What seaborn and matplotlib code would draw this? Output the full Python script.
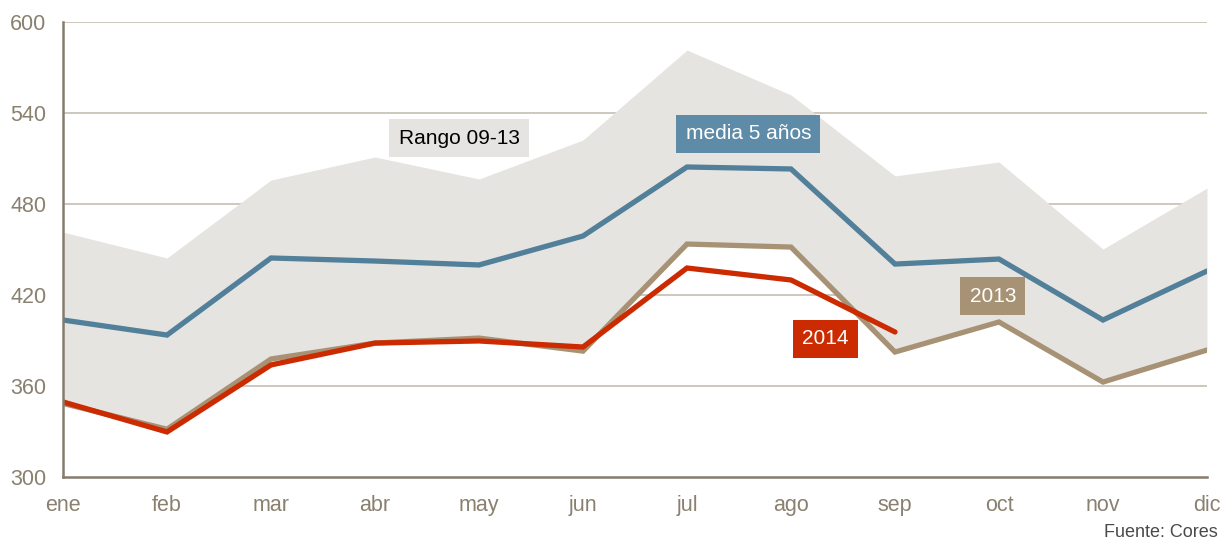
import numpy as np
import pandas as pd
import matplotlib
matplotlib.use("Agg")
import matplotlib.pyplot as plt
import seaborn as sns

# === datos ===
meses = ["ene", "feb", "mar", "abr", "may", "jun", "jul", "ago", "sep", "oct", "nov", "dic"]
rango_max = [461.5, 444.4, 495.8, 511.0, 496.5, 522.2, 581.5, 551.9, 498.5, 507.7, 450.3, 490.5]
rango_min = [348.5, 331.5, 377.8, 388.3, 391.6, 383.0, 453.6, 451.6, 382.4, 402.2, 362.6, 383.7]
media_5 = [403.5, 393.6, 444.4, 442.4, 439.8, 458.9, 504.4, 503.1, 440.4, 443.7, 403.5, 435.8]
serie_2013 = [348.5, 331.5, 377.8, 388.3, 391.6, 383.0, 453.6, 451.6, 382.4, 402.2, 362.6, 383.7]
serie_2014 = [349.5, 329.7, 373.9, 388.3, 389.7, 385.7, 437.8, 429.9, 395.6]

C_RANGO = "#e6e4e0"
C_MEDIA = "#527f99"
C_MEDIA_BOX = "#5e8ca8"
C_2013 = "#a89275"
C_2014 = "#cc2a00"
C_GRID = "#c9c4b6"
C_AXIS = "#857c6c"
C_TEXT = "#8a8070"

sns.set_style("white")
plt.rcParams["font.family"] = ["Liberation Sans", "DejaVu Sans"]

x = np.arange(len(meses))
df = pd.DataFrame({"x": x, "media": media_5, "y2013": serie_2013})
df14 = pd.DataFrame({"x": x[:len(serie_2014)], "y2014": serie_2014})

fig = plt.figure(figsize=(12.24, 5.42), dpi=100)
ax = fig.add_axes([63 / 1224, 65 / 542, 1144 / 1224, 455 / 542])

# rejilla primero, la banda la tapa
for v in [360, 420, 480, 540, 600]:
    ax.axhline(v, color=C_GRID, lw=1.3, zorder=0)

ax.fill_between(x, rango_min, rango_max, color=C_RANGO, lw=0, zorder=1)

kw = dict(lw=3.8, solid_capstyle="round", solid_joinstyle="miter", legend=False)
sns.lineplot(data=df, x="x", y="y2013", color=C_2013, ax=ax, zorder=3, **kw)
sns.lineplot(data=df, x="x", y="media", color=C_MEDIA, ax=ax, zorder=3, **kw)
sns.lineplot(data=df14, x="x", y="y2014", color=C_2014, ax=ax, zorder=4, **kw)

# etiquetas
box = dict(boxstyle="square,pad=0.45", lw=0)
ax.text(3.81, 523.5, "Rango 09-13", fontsize=15, color="black", ha="center", va="center",
        bbox=dict(fc=C_RANGO, **box), zorder=5)
ax.text(6.59, 526.2, "media 5 años", fontsize=15, color="white", ha="center", va="center",
        bbox=dict(fc=C_MEDIA_BOX, **box), zorder=5)
ax.text(8.94, 419.3, "2013", fontsize=15, color="white", ha="center", va="center",
        bbox=dict(fc=C_2013, **box), zorder=5)
ax.text(7.33, 391.0, "2014", fontsize=15, color="white", ha="center", va="center",
        bbox=dict(fc=C_2014, **box), zorder=5)

ax.set_xlim(0, 11)
ax.set_ylim(300, 600)
ax.set_xticks(x)
ax.set_xticklabels(meses)
ax.set_yticks([300, 360, 420, 480, 540, 600])
ax.tick_params(axis="both", length=0, labelsize=15.5, colors=C_TEXT)
ax.tick_params(axis="x", pad=13)
ax.tick_params(axis="y", pad=12)
ax.set_xlabel("")
ax.set_ylabel("")

for s in ["top", "right"]:
    ax.spines[s].set_visible(False)
for s in ["left", "bottom"]:
    ax.spines[s].set_color(C_AXIS)
    ax.spines[s].set_linewidth(1.8)
    ax.spines[s].set_zorder(6)

fig.text(1207 / 1224, 1 - 4 / 542, "Unidad: miles de toneladas", ha="right", va="bottom",
         fontsize=14, color=C_TEXT)
fig.text(1218 / 1224, 1 / 542, "Fuente: Cores", ha="right", va="bottom",
         fontsize=13, color="#4a4a4a")

fig.savefig("out.png", dpi=100)
